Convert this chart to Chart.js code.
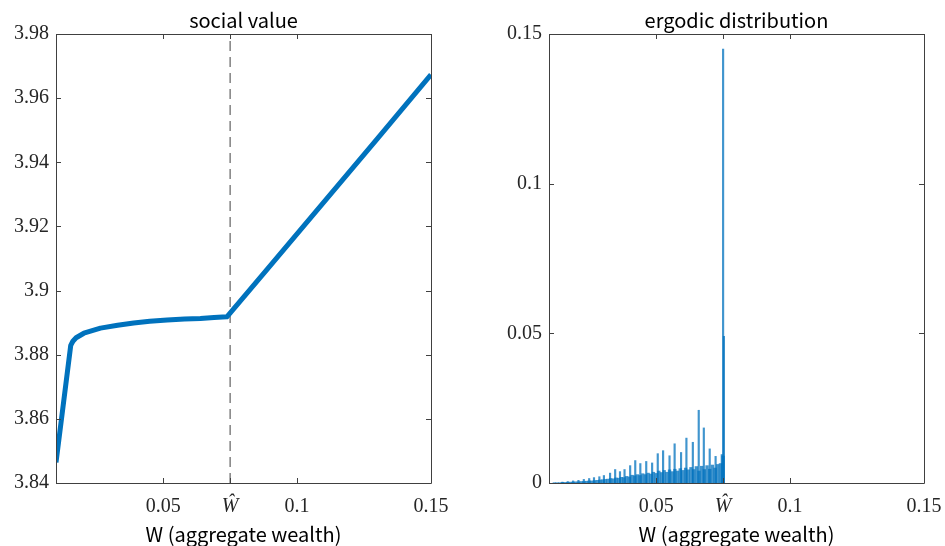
<!DOCTYPE html>
<html>
<head>
<meta charset="utf-8">
<script src="https://cdn.jsdelivr.net/npm/chart.js@4/dist/chart.umd.min.js"></script>
<style>
html,body{margin:0;padding:0;background:#fff;}
#wrap{position:relative;width:945px;height:546px;}
canvas{position:absolute;top:0;}
#c1{left:0;}
#c2{left:472px;}
</style>
</head>
<body>
<div id="wrap">
<canvas id="c1" width="472" height="546"></canvas>
<canvas id="c2" width="473" height="546"></canvas>
</div>
<script>
// ---------- data ----------
const leftTitle = 'social value';
const rightTitle = 'ergodic distribution';
const xAxisTitle = 'W (aggregate wealth)';

const xTickValues = [0.05, 0.075, 0.1, 0.15];
const xTickLabels = ['0.05', 'Ŵ', '0.1', '0.15'];
const WHAT = 0.075;

const yTicksLeft = [3.84, 3.86, 3.88, 3.9, 3.92, 3.94, 3.96, 3.98];
const yLabelsLeft = ['3.84', '3.86', '3.88', '3.9', '3.92', '3.94', '3.96', '3.98'];
const yTicksRight = [0, 0.05, 0.1, 0.15];
const yLabelsRight = ['0', '0.05', '0.1', '0.15'];

// social value curve
const valueW = [0.01, 0.0155, 0.0163, 0.0175, 0.0204, 0.0266, 0.033, 0.039, 0.045, 0.0515, 0.058, 0.0639, 0.069, 0.0738, 0.09, 0.11, 0.13, 0.15];
const valueV = [3.8464, 3.8829, 3.8842, 3.8853, 3.8867, 3.8883, 3.8892, 3.8899, 3.8904, 3.8908, 3.8911, 3.8913, 3.8916, 3.8918, 3.9078, 3.9276, 3.9474, 3.9673];

// ergodic distribution: background mass (step 0.001)
const massW = [0.012,0.013,0.014,0.015,0.016,0.017,0.018,0.019,0.020,0.021,0.022,0.023,0.024,0.025,0.026,0.027,0.028,0.029,0.030,0.031,0.032,0.033,0.034,0.035,0.036,0.037,0.038,0.039,0.040,0.041,0.042,0.043,0.044,0.045,0.046,0.047,0.048,0.049,0.050,0.051,0.052,0.053,0.054,0.055,0.056,0.057,0.058,0.059,0.060,0.061,0.062,0.063,0.064,0.065,0.066,0.067,0.068,0.069,0.070,0.071,0.072,0.073,0.074,0.075];
const massP = [0.0001,0.0001,0.0001,0.0002,0.0002,0.0002,0.0003,0.0003,0.0004,0.0004,0.0005,0.0005,0.0006,0.0007,0.0007,0.0008,0.0009,0.0010,0.0011,0.0012,0.0013,0.0015,0.0014,0.0017,0.0016,0.0019,0.0018,0.0022,0.0020,0.0026,0.0024,0.0028,0.0025,0.0031,0.0028,0.0033,0.0030,0.0036,0.0032,0.0040,0.0035,0.0042,0.0036,0.0044,0.0038,0.0046,0.0040,0.0048,0.0042,0.0050,0.0044,0.0052,0.0045,0.0055,0.0040,0.0056,0.0045,0.0058,0.0046,0.0060,0.0050,0.0062,0.0065,0.0090];

// ergodic distribution: spikes
const spikeW = [0.0150,0.0170,0.0190,0.0210,0.0230,0.0250,0.0268,0.0288,0.0305,0.0328,0.0347,0.0365,0.0382,0.0403,0.0422,0.0441,0.0463,0.0485,0.0506,0.0526,0.0550,0.0569,0.0593,0.0613,0.0637,0.0659,0.0678,0.0700,0.0722,0.0745,0.0750,0.0753];
const spikeP = [0.0003,0.0005,0.0007,0.0009,0.0012,0.0015,0.0018,0.0021,0.0025,0.0033,0.0045,0.0038,0.0045,0.0058,0.0075,0.0065,0.0072,0.0067,0.0098,0.0108,0.0091,0.0131,0.0102,0.0150,0.0136,0.0243,0.0184,0.0114,0.0089,0.0095,0.1450,0.0490];

// ---------- styling helpers ----------
const SERIF = 'Liberation Serif';
const SANS = 'Noto Sans CJK JP';
const AXIS_COLOR = '#404040';
const BLUE = '#0072BD';

const boxPlugin = {
  id: 'box',
  afterDatasetsDraw(chart) {
    const {ctx, chartArea: a} = chart;
    const xs = chart.scales.x, ys = chart.scales.y;
    ctx.save();
    ctx.strokeStyle = AXIS_COLOR;
    ctx.lineWidth = 1;
    ctx.beginPath();
    ctx.rect(Math.round(a.left) + 0.5, Math.round(a.top) + 0.5, Math.round(a.right - a.left), Math.round(a.bottom - a.top));
    const L = 5;
    xs.ticks.forEach(t => {
      const px = Math.round(xs.getPixelForValue(t.value)) + 0.5;
      ctx.moveTo(px, a.bottom); ctx.lineTo(px, a.bottom - L);
      ctx.moveTo(px, a.top); ctx.lineTo(px, a.top + L);
    });
    ys.ticks.forEach(t => {
      const py = Math.round(ys.getPixelForValue(t.value)) + 0.5;
      ctx.moveTo(a.left, py); ctx.lineTo(a.left + L, py);
      ctx.moveTo(a.right, py); ctx.lineTo(a.right - L, py);
    });
    ctx.stroke();
    ctx.restore();
  }
};

function xScale() {
  return {
    type: 'linear', min: 0.01, max: 0.15, offset: false,
    afterBuildTicks: s => { s.ticks = xTickValues.map(v => ({value: v})); },
    afterFit: s => { s.height = 63; s.paddingRight = 0; s.paddingLeft = 0; },
    grid: {display: false, drawTicks: false}, border: {display: false},
    ticks: {
      autoSkip: false, maxRotation: 0, padding: 12, color: '#262626',
      font: c => (c.tick && c.tick.value === WHAT)
        ? {family: SERIF, size: 20, style: 'italic'}
        : {family: SERIF, size: 20},
      callback: (v, i) => xTickLabels[i]
    },
    title: {display: true, text: xAxisTitle, color: '#000', font: {family: SANS, size: 20}, padding: {top: 0, bottom: 0}}
  };
}
function yScale(min, max, vals, labels, width) {
  return {
    type: 'linear', min: min, max: max,
    afterBuildTicks: s => { s.ticks = vals.map(v => ({value: v})); },
    afterFit: s => { s.width = width; s.paddingTop = 0; s.paddingBottom = 0; },
    grid: {display: false, drawTicks: false}, border: {display: false},
    ticks: {padding: 7, color: '#262626', font: {family: SERIF, size: 20}, callback: (v, i) => labels[i]}
  };
}
function titleOpt(text) {
  return {display: true, text: text, color: '#000', fullSize: false,
    font: {family: SANS, size: 20, weight: 'normal'}, padding: {top: 8, bottom: 2}};
}

function draw() {
  new Chart(document.getElementById('c1'), {
    type: 'line',
    data: {
      datasets: [
        {data: valueW.map((w, i) => ({x: w, y: valueV[i]})), borderColor: BLUE, borderWidth: 5, pointRadius: 0, tension: 0, fill: false, borderCapStyle: 'butt', borderJoinStyle: 'round'},
        {data: [{x: WHAT, y: 3.84}, {x: WHAT, y: 3.98}], borderColor: '#404040', borderWidth: 1, borderDash: [10, 6], pointRadius: 0, fill: false}
      ]
    },
    options: {
      responsive: false, animation: false, devicePixelRatio: 1,
      layout: {padding: {left: 0, right: 41, top: 0, bottom: 0}},
      plugins: {legend: {display: false}, tooltip: {enabled: false}, title: titleOpt(leftTitle)},
      scales: {x: xScale(), y: yScale(3.84, 3.98, yTicksLeft, yLabelsLeft, 56)}
    },
    plugins: [boxPlugin]
  });

  new Chart(document.getElementById('c2'), {
    type: 'bar',
    data: {
      datasets: [
        {data: spikeW.map((w, i) => ({x: w, y: spikeP[i]})), backgroundColor: 'rgba(0,114,189,0.75)', borderWidth: 0, barThickness: 1.5, grouped: false},
        {data: massW.map((w, i) => ({x: w, y: massP[i]})), backgroundColor: 'rgba(0,114,189,0.75)', borderWidth: 0, barThickness: 2.7, grouped: false}
      ]
    },
    options: {
      responsive: false, animation: false, devicePixelRatio: 1,
      layout: {padding: {left: 0, right: 21, top: 0, bottom: 0}},
      plugins: {legend: {display: false}, tooltip: {enabled: false}, title: titleOpt(rightTitle)},
      scales: {x: xScale(), y: yScale(0, 0.15, yTicksRight, yLabelsRight, 77)}
    },
    plugins: [boxPlugin]
  });
}

draw();
</script>
</body>
</html>
